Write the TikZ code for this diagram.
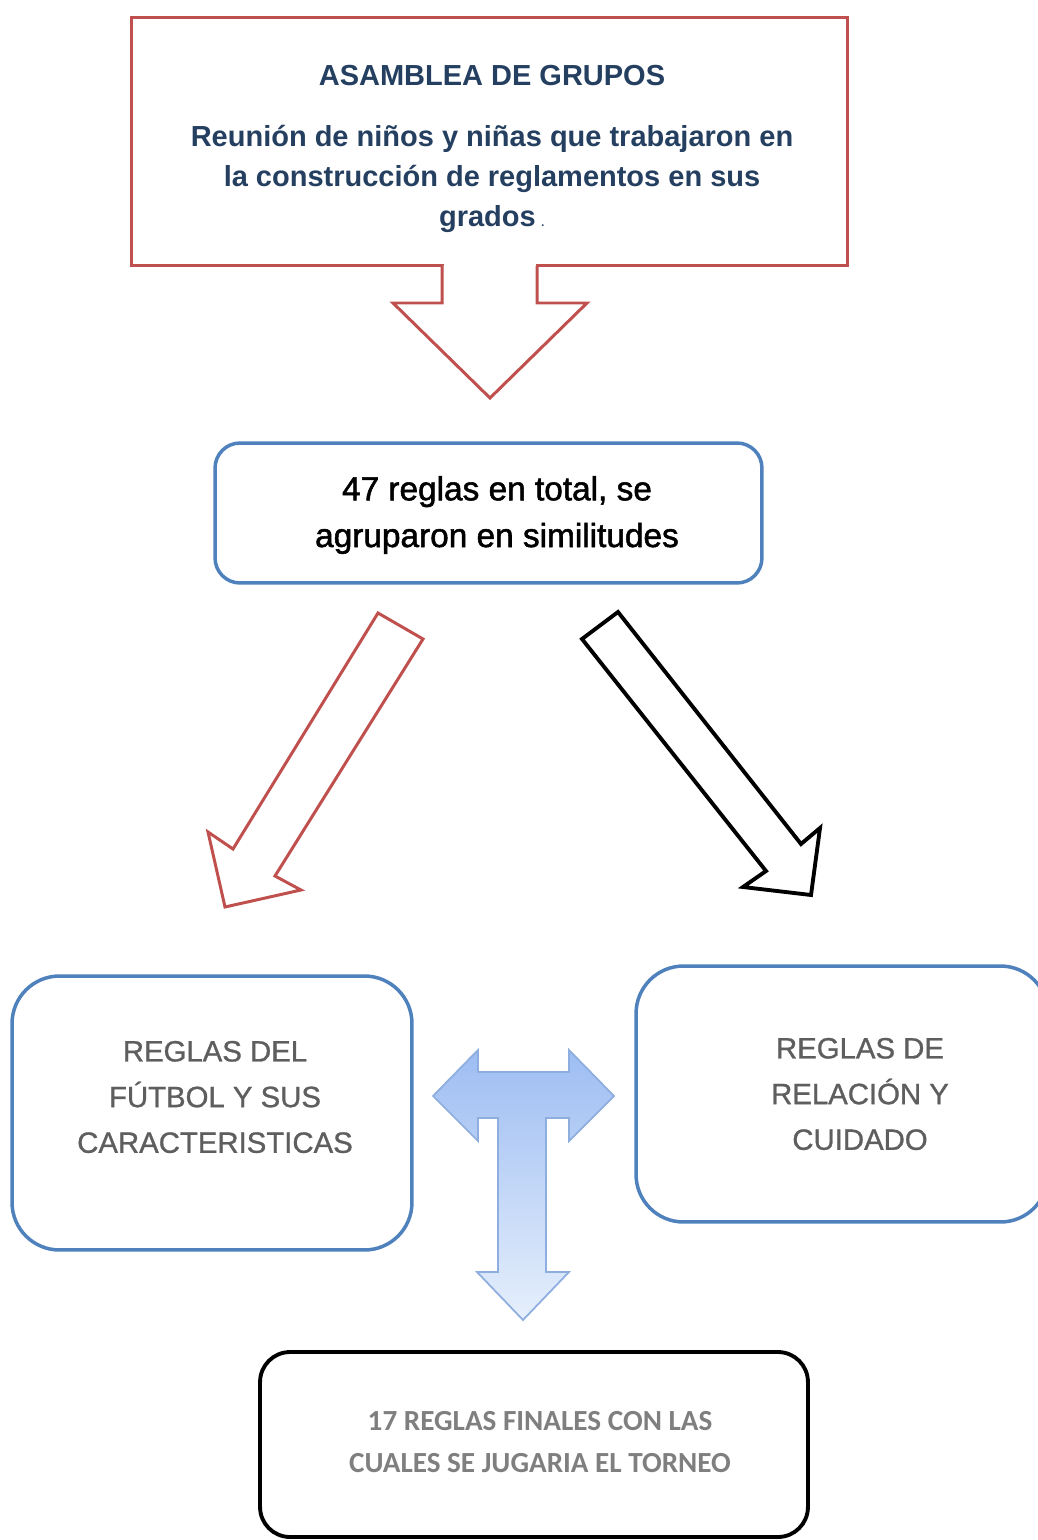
\documentclass[tikz,border=0pt]{standalone}
\usepackage{fontspec}
\setmainfont{Liberation Sans}
\newfontfamily\calibrifont{Carlito}
\newfontfamily\heavyfont[FakeBold=1.6]{Liberation Sans}
\newfontfamily\shadefont[FakeBold=1]{Liberation Sans}
\definecolor{boxred}{HTML}{C0504D}
\definecolor{boxblue}{HTML}{4F81BD}
\definecolor{titleblue}{HTML}{243F60}
\definecolor{rulegray}{HTML}{5E5E5E}
\definecolor{finalgray}{HTML}{7F7F7F}
\definecolor{tborder}{HTML}{8EAEE0}
\definecolor{ttop}{HTML}{9DBDF2}
\definecolor{tbottom}{HTML}{E6EFFC}

\begin{document}
\begin{tikzpicture}[x=0.02cm, y=-0.02cm,
    redbox/.style={draw=boxred, line width=1.7pt, inner sep=0pt},
    bluebox/.style={draw=boxblue, line width=2pt, inner sep=0pt},
    finalbox/.style={draw=black, line width=2.2pt, rounded corners=0.6cm, inner sep=0pt},
    ruletext/.style={align=center, text=rulegray, font=\shadefont\fontsize{16.7}{26}\selectfont},
    blockred/.style={draw=boxred, line width=1.7pt, fill=white, line join=miter},
    blockblack/.style={draw=black, line width=2.2pt, fill=white, line join=miter}]
\useasboundingbox (0,0) rectangle (1037,1540);

% asamblea
\node[redbox, minimum width=14.34cm, minimum height=4.98cm] (asamblea) at (489.5,141.5) {};
\node[align=center, text=titleblue, font=\bfseries\fontsize{16.5}{22.7}\selectfont] (asambleatxt) at (492,149)
    {ASAMBLEA DE GRUPOS\\[12pt]
     Reunión de niños y niñas que trabajaron en\\
     la construcción de reglamentos en sus\\
     grados\,{\mdseries\fontsize{9}{9}\selectfont.}};

% flecha hacia abajo
\fill[white] (443.5,262) rectangle (535.5,270);
\draw[blockred] (442,266) -- (442,303) -- (393,303) -- (490,398) -- (587,303) -- (537,303) -- (537,266);

% 47 reglas
\node[bluebox, rounded corners=0.5cm, minimum width=10.94cm, minimum height=2.8cm] (reglas) at (488.5,513) {};
\node[align=center, font=\heavyfont\fontsize{19}{26.6}\selectfont] (reglastxt) at (497,515)
    {47 reglas en total, se\\agruparon en similitudes};

% flechas diagonales
\draw[blockred] (378,613) -- (423,639) -- (275,876) -- (301,890) -- (225,907)
    -- (208,832) -- (233,849) -- cycle;
\draw[blockblack] (618,612) -- (801,844) -- (820,828) -- (811,895)
    -- (743,887) -- (766,871) -- (582,639) -- cycle;

% grupos de reglas
\node[bluebox, rounded corners=0.95cm, minimum width=8cm, minimum height=5.48cm] (futbol) at (212,1113) {};
\node[ruletext] (futboltxt) at (215,1097) {REGLAS DEL\\FÚTBOL Y SUS\\CARACTERISTICAS};
\node[bluebox, rounded corners=0.95cm, minimum width=8.24cm, minimum height=5.12cm] (relacion) at (842,1094) {};
\node[ruletext] (relaciontxt) at (860,1094) {REGLAS DE\\RELACIÓN Y\\CUIDADO};

% flecha en T
\path[draw=tborder, line width=1pt, top color=ttop, bottom color=tbottom, line join=miter]
    (433,1096) -- (478,1050) -- (478,1072) -- (569,1072) -- (569,1050) -- (614,1096)
    -- (569,1141) -- (569,1118) -- (546,1118) -- (546,1272) -- (569,1272) -- (523,1320)
    -- (477,1272) -- (498,1272) -- (498,1118) -- (478,1118) -- (478,1141) -- cycle;

% reglas finales
\node[finalbox, minimum width=10.96cm, minimum height=3.7cm] (finales) at (534,1444.5) {};
\node[align=center, text=finalgray, font=\calibrifont\bfseries\fontsize{16.6}{23.8}\selectfont] (finalestxt) at (540,1442)
    {17 REGLAS FINALES CON LAS\\CUALES SE JUGARIA EL TORNEO};
\end{tikzpicture}
\end{document}
